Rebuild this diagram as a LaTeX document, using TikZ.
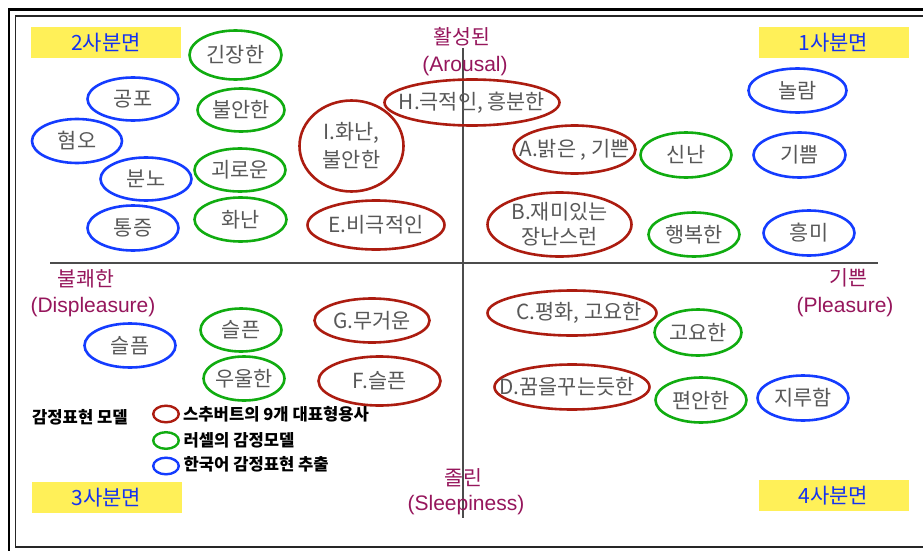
\documentclass[tikz,border=0pt]{standalone}
\usepackage{fontspec}
\setmainfont{Noto Sans CJK KR}
\newfontfamily\en{Liberation Sans}
\usetikzlibrary{shapes.geometric}
\definecolor{ered}{RGB}{172,28,16}
\definecolor{egrn}{RGB}{16,172,16}
\definecolor{eblu}{RGB}{20,60,255}
\definecolor{qyel}{RGB}{255,240,88}
\definecolor{qblu}{RGB}{20,50,240}
\definecolor{axmag}{RGB}{150,22,92}
\definecolor{txtgray}{RGB}{88,88,88}
\tikzset{
  emo/.style={ellipse, draw, line width=2.6pt, inner sep=0pt},
  emotxt/.style={inner sep=0pt, text=txtgray, align=center, font=\fontsize{20.8}{25}\selectfont},
  redE/.style={emo, draw=ered},
  grnE/.style={emo, draw=egrn},
  bluE/.style={emo, draw=eblu},
  quadbox/.style={fill=qyel, text=qblu, minimum width=150pt, minimum height=31pt, inner sep=0pt,
    font=\fontsize{21}{22}\selectfont},
  axkr/.style={text=axmag, inner sep=0pt, font=\fontsize{20.5}{22}\selectfont},
  axen/.style={text=axmag, inner sep=0pt, font=\en\fontsize{21}{24}\selectfont},
  axisline/.style={draw=black!70, line width=1.1pt},
  legE/.style={ellipse, draw, line width=2.4pt, minimum width=25.6pt, minimum height=16.6pt, inner sep=0pt},
  legtxt/.style={anchor=west, inner sep=0pt, text=black, font=\bfseries\fontsize{16.6}{18}\selectfont},
}
% \emoell{style}{width}{height}{name}{x,y}{text}
\newcommand{\emoell}[6]{%
  \node[#1, minimum width=#2, minimum height=#3] (#4) at (#5) {};
  \node[emotxt] (#4t) at (#4) {#6};}
\begin{document}
\begin{tikzpicture}[x=1pt,y=-1pt]
\useasboundingbox (0,0) rectangle (923,551);
\clip (0,0) rectangle (923,551);
\fill[white] (0,0) rectangle (923,551);
% frame
\draw[line width=2.6pt, black] (8.8,570) rectangle (940,9.8);
\draw[line width=1.4pt, black!85] (15.7,547) rectangle (940,16.2);
% axes
\coordinate (axL) at (50,263);
\coordinate (axR) at (878,263);
\coordinate (axT) at (463,48);
\coordinate (axB) at (463,518);
\draw[axisline] (axL) -- (axR);
\draw[axisline] (axT) -- (axB);
% quadrant boxes
\node[quadbox] (q2) at (106,42.5) {2사분면};
\node[quadbox] (q1) at (833.5,42.5) {1사분면};
\node[quadbox] (q3) at (106.5,497.5) {3사분면};
\node[quadbox] (q4) at (833.5,495.5) {4사분면};
% axis labels
\node[axkr] (arK) at (462,37) {활성된};
\node[axen] (arE) at (465,66) {(Arousal)};
\node[axkr] (dpK) at (86,279) {불쾌한};
\node[axen] (dpE) at (93,307) {(Displeasure)};
\node[axkr] (plK) at (848,278) {기쁜};
\node[axen] (plE) at (845,307) {(Pleasure)};
\node[axkr] (slK) at (463,478) {졸린};
\node[axen] (slE) at (466,505) {(Sleepiness)};
% quadrant 2
\emoell{bluE}{91pt}{43pt}{gongpo}{133,99}{공포}
\emoell{bluE}{90pt}{44pt}{hyeomo}{77,141}{혐오}
\emoell{bluE}{91pt}{43pt}{bunno}{146,179}{분노}
\emoell{bluE}{91pt}{45pt}{tongjeung}{133,228}{통증}
\emoell{grnE}{92pt}{49pt}{ginjang}{235.5,55}{긴장한}
\emoell{grnE}{87pt}{43pt}{buran}{241,110}{불안한}
\emoell{grnE}{91pt}{43pt}{goeroun}{240,170}{괴로운}
\emoell{grnE}{92pt}{44pt}{hwanan}{240.5,219.5}{화난}
\node[redE, minimum width=104pt, minimum height=91pt] (eI) at (351.5,146) {};
\node[emotxt, font=\fontsize{20.8}{28}\selectfont] (eIt) at (eI) {I.화난,\\ 불안한};
\emoell{redE}{137pt}{49pt}{eE}{376,225}{E.비극적인}
\emoell{redE}{175pt}{46pt}{eH}{472,102.5}{H.극적인, 흥분한}
% quadrant 1
\emoell{redE}{122pt}{48pt}{eA}{574.5,149.5}{A.밝은 , 기쁜}
\emoell{redE}{144pt}{64pt}{eB}{559.5,224.5}{B.재미있는\\장난스런}
\emoell{grnE}{91pt}{45pt}{sinnan}{686,155}{신난}
\emoell{grnE}{91pt}{44pt}{haengbok}{694,234.5}{행복한}
\emoell{bluE}{98pt}{44pt}{nollam}{797.5,90.5}{놀람}
\emoell{bluE}{92pt}{45pt}{gippeum}{799.5,155}{기쁨}
\emoell{bluE}{91pt}{45pt}{heungmi}{809,233}{흥미}
% quadrant 3
\emoell{bluE}{91pt}{44pt}{seulpeum}{130,345.5}{슬픔}
\emoell{grnE}{81pt}{43pt}{seulpeun}{241,330}{슬픈}
\emoell{grnE}{81pt}{44pt}{uul}{244,378.5}{우울한}
\emoell{redE}{115pt}{44pt}{eG}{372,320.5}{G.무거운}
\emoell{redE}{122pt}{49pt}{eF}{379.5,381}{F.슬픈}
% quadrant 4
\node[redE, minimum width=169pt, minimum height=45pt] (eC) at (572,313) {};
\node[emotxt] (eCt) at ([xshift=7pt]eC) {C.평화, 고요한};
\node[redE, minimum width=155pt, minimum height=45pt] (eD) at (572,387) {};
\node[emotxt] (eDt) at ([xshift=-5pt]eD) {D.꿈을꾸는듯한};
\emoell{grnE}{87pt}{46pt}{goyo}{698,332.5}{고요한}
\emoell{grnE}{91pt}{45pt}{pyeonan}{701,400}{편안한}
\emoell{bluE}{91pt}{45pt}{jiru}{803,398}{지루함}
% legend
\node[legtxt] (legT) at (32,417) {감정표현 모델};
\node[legE, draw=ered] (legR) at (166,414) {};
\node[legE, draw=egrn] (legG) at (166,440.5) {};
\node[legE, draw=eblu] (legB) at (166,466) {};
\node[legtxt] (legRt) at (183,414) {스추버트의 9개 대표형용사};
\node[legtxt] (legGt) at (183.5,440) {러셀의 감정모델};
\node[legtxt] (legBt) at (183.5,464) {한국어 감정표현 추출};
\end{tikzpicture}
\end{document}
